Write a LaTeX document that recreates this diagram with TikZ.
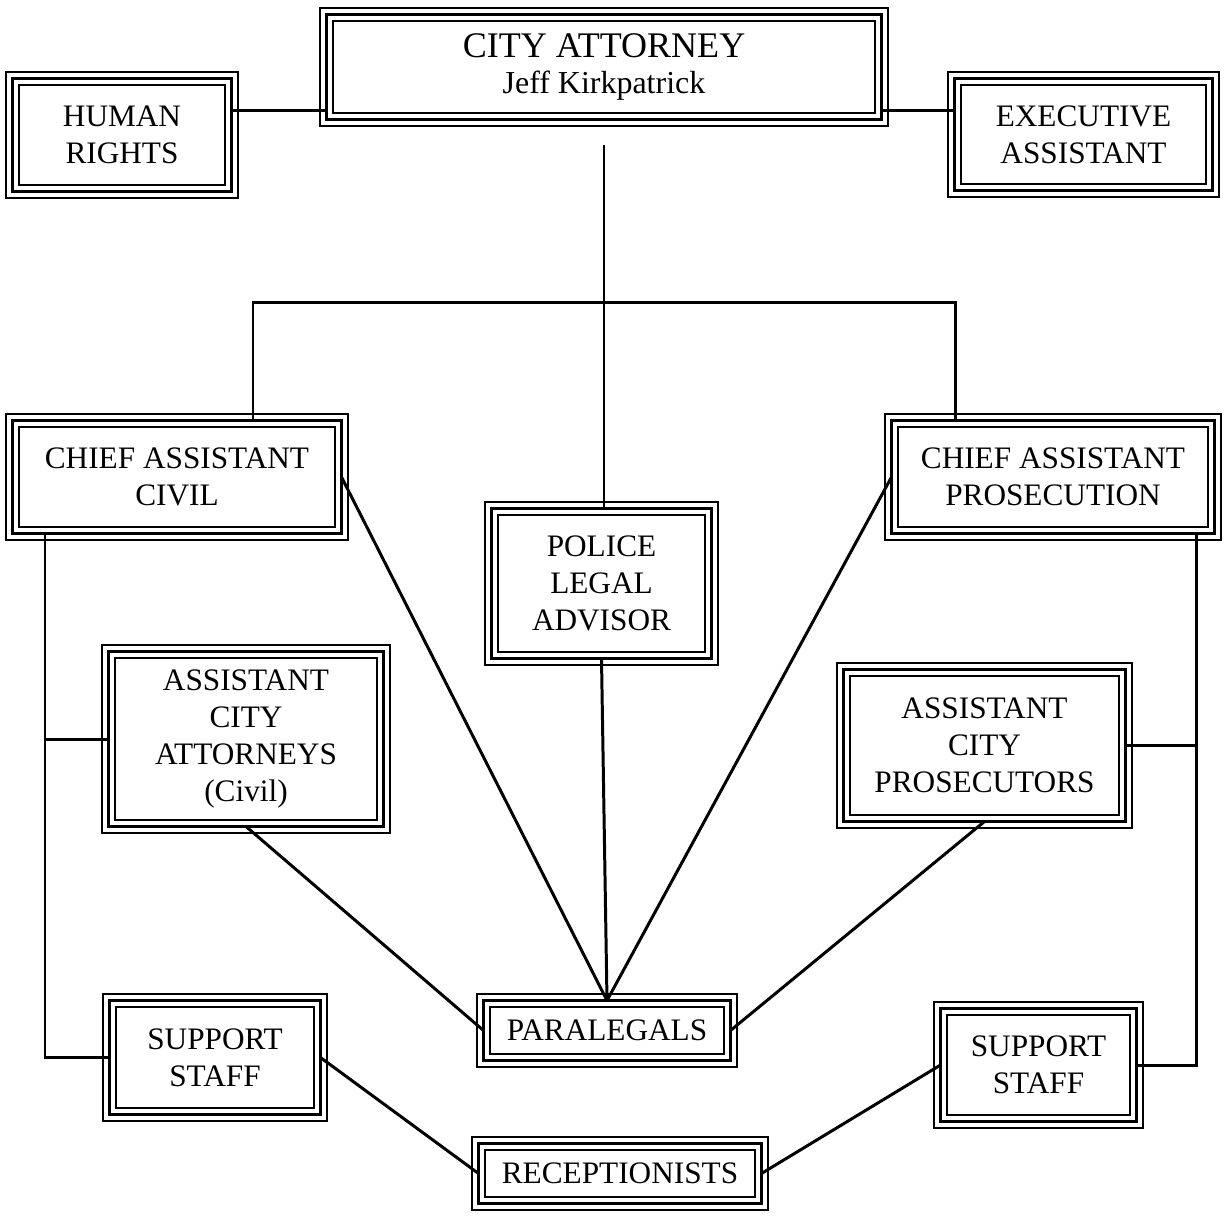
\documentclass[tikz,border=0pt]{standalone}
\usepackage{fontspec}
\setmainfont{Liberation Serif}
\tikzset{
  % Box with the heavy middle frame
  orgbox/.style={
    rectangle, draw=black, line width=2.1pt, fill=white,
    inner sep=2pt, outer sep=0pt, align=center,
    font=\fontsize{17.8}{21}\selectfont
  },
  % Thin outer / inner frame lines
  thinrule/.style={
    draw=black, line width=0.75pt
  },
  % Plain connector
  link/.style={
    draw=black, line width=1.7pt
  },
}

\begin{document}
\begin{tikzpicture}[x=0.02cm, y=-0.02cm]

\useasboundingbox (0,0) rectangle (1225,1215);

%% -- TOP ROW -----------------------------------------------------------

\node[orgbox, minimum width=11.10cm, minimum height=2.10cm] (atty) at (604,67)
  {{\fontsize{20.5}{20}\selectfont CITY ATTORNEY}\\[-1pt]{\fontsize{18.2}{20}\selectfont Jeff Kirkpatrick}};

\node[orgbox, minimum width=4.38cm, minimum height=2.26cm] (hr) at (122,135)
  {HUMAN\\RIGHTS};

\node[orgbox, minimum width=5.16cm, minimum height=2.24cm] (exec) at (1083.5,134.5)
  {EXECUTIVE\\ASSISTANT};

%% -- CHIEFS AND POLICE ADVISOR -----------------------------------------

\node[orgbox, minimum width=6.58cm, minimum height=2.26cm] (chiefc) at (177,477)
  {CHIEF ASSISTANT\\CIVIL};

\node[orgbox, minimum width=6.46cm, minimum height=2.26cm] (chiefp) at (1053,477)
  {CHIEF ASSISTANT\\PROSECUTION};

\node[orgbox, minimum width=4.40cm, minimum height=3.00cm] (pla) at (601.5,583.5)
  {POLICE\\LEGAL\\ADVISOR};

%% -- ASSISTANTS ----------------------------------------------------------

\node[orgbox, minimum width=5.50cm, minimum height=3.50cm] (aca) at (246,739)
  {ASSISTANT\\CITY\\ATTORNEYS\\(Civil)};

\node[orgbox, minimum width=5.64cm, minimum height=3.04cm] (acp) at (984.5,745.5)
  {ASSISTANT\\CITY\\PROSECUTORS};

%% -- STAFF ROW -------------------------------------------------------------

\node[orgbox, minimum width=4.94cm, minimum height=1.20cm] (para) at (607,1030.5)
  {PARALEGALS};

\node[orgbox, minimum width=4.22cm, minimum height=2.28cm] (supl) at (215,1057.5)
  {SUPPORT\\STAFF};

\node[orgbox, minimum width=3.92cm, minimum height=2.26cm] (supr) at (1038.5,1065)
  {SUPPORT\\STAFF};

\node[orgbox, minimum width=5.66cm, minimum height=1.20cm] (recep) at (620,1173.5)
  {RECEPTIONISTS};

%% -- THIN FRAMES -------------------------------------------------------------

\foreach \n in {atty,hr,exec,chiefc,chiefp,pla,aca,acp,para,supl,supr,recep}{
  \draw[thinrule] ([shift={(-0.13cm,-0.13cm)}]\n.south west) rectangle ([shift={(0.13cm,0.13cm)}]\n.north east);
  \draw[thinrule] ([shift={(0.13cm,0.13cm)}]\n.south west) rectangle ([shift={(-0.13cm,-0.13cm)}]\n.north east);
}

%% -- CONNECTORS --------------------------------------------------------------

\coordinate (side) at (0,110);
\coordinate (drop) at (604,145);
\coordinate (barL) at (253,302);
\coordinate (barR) at (955,302);
\coordinate (trunkL) at (45,0);
\coordinate (trunkR) at (1196,0);

\draw[link] (hr.east |- side)   -- (atty.west |- side);
\draw[link] (atty.east |- side) -- (exec.west |- side);

\draw[link] (drop) -- (pla.north -| drop);
\draw[link] (chiefc.north -| barL) -- (barL) -- (barR) -- (chiefp.north -| barR);

\draw[link] (chiefc.east) -- (para.north);
\draw[link] (pla.south)   -- (para.north);
\draw[link] (chiefp.west) -- (para.north);
\draw[link] (aca.south)   -- (para.west);
\draw[link] (acp.south)   -- (para.east);

% side trunks
\draw[link] (chiefc.south -| trunkL) |- (supl.west);
\draw[link] (trunkL |- aca.west) -- (aca.west);
\draw[link] (chiefp.south -| trunkR) |- (supr.east);
\draw[link] (trunkR |- acp.east) -- (acp.east);

\draw[link] (supl.east) -- (recep.west);
\draw[link] (supr.west) -- (recep.east);

\end{tikzpicture}
\end{document}
